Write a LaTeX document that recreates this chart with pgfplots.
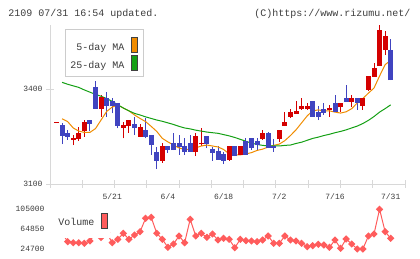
\documentclass[border=0pt]{standalone}
\usepackage{pgfplots}
\pgfplotsset{compat=1.18}
\usepackage{pgfplotstable}
\usepackage{fontspec}
\setmainfont{Liberation Mono}
\definecolor{cup}{RGB}{212,0,0}
\definecolor{cdn}{RGB}{64,68,192}
\definecolor{mafive}{RGB}{240,140,0}
\definecolor{matwf}{RGB}{20,160,20}
\definecolor{vol}{RGB}{255,92,92}
\definecolor{axgray}{RGB}{216,216,216}
\definecolor{txt}{RGB}{60,60,60}

% x open close low high  (red = up)
\pgfplotstableread{
x o c l h
0 3294 3297 3294 3297
3 3239 3245 3223 3255
4 3242 3260 3236 3279
5 3267 3295 3249 3302
8 3338 3374 3312 3381
12 3278 3286 3244 3297
13 3284 3302 3262 3302
15 3249 3280 3249 3288
19 3174 3220 3167 3228
25 3202 3252 3188 3260
26 3226 3230 3220 3276
31 3176 3220 3174 3220
33 3192 3220 3192 3220
37 3242 3260 3239 3270
40 3241 3270 3234 3270
41 3283 3295 3283 3328
42 3312 3327 3309 3336
43 3322 3331 3322 3362
44 3336 3346 3334 3372
45 3336 3346 3334 3355
49 3334 3341 3312 3350
51 3342 3355 3328 3355
53 3360 3371 3344 3381
55 3347 3371 3334 3371
56 3397 3441 3394 3441
57 3439 3465 3439 3481
58 3473 3586 3473 3602
59 3523 3567 3507 3583
}\upc
% blue = down
\pgfplotstableread{
x o c l h
1 3286 3253 3226 3292
2 3262 3249 3239 3271
6 3301 3289 3267 3301
7 3406 3338 3338 3425
9 3371 3347 3312 3390
10 3362 3347 3323 3371
11 3355 3284 3276 3355
14 3290 3276 3255 3312
16 3271 3249 3244 3309
17 3255 3223 3192 3255
18 3200 3174 3147 3216
20 3220 3207 3199 3220
21 3228 3207 3207 3260
22 3228 3216 3192 3255
23 3220 3202 3192 3244
24 3228 3202 3202 3255
27 3252 3226 3213 3252
28 3210 3199 3174 3216
29 3204 3176 3176 3220
30 3195 3174 3163 3202
32 3220 3188 3188 3220
34 3237 3192 3192 3244
35 3244 3213 3207 3244
36 3237 3223 3207 3244
38 3260 3215 3215 3265
39 3220 3215 3202 3242
46 3362 3312 3312 3362
47 3326 3312 3302 3346
48 3337 3325 3318 3355
50 3355 3328 3328 3381
52 3372 3360 3360 3413
54 3371 3355 3334 3371
60 3523 3428 3428 3558
}\dnc
\pgfplotstableread{
x m
1 3306
2 3297
3 3277
4 3267
5 3263
6 3263
7 3275
8 3302
9 3329
10 3343
11 3349
12 3340
13 3331
14 3318
15 3307
16 3297
17 3282
18 3266
19 3244
20 3233
21 3223
22 3214
23 3209
24 3209
25 3214
26 3220
27 3223
28 3220
29 3217
30 3209
31 3195
32 3192
33 3192
34 3195
35 3199
36 3206
37 3210
38 3217
39 3222
40 3226
41 3237
42 3253
43 3271
44 3293
45 3315
46 3331
47 3334
48 3331
49 3331
50 3327
51 3324
52 3328
53 3338
54 3356
55 3370
56 3387
57 3403
58 3441
59 3477
60 3490
}\mafv
\pgfplotstableread{
x m
1 3421
2 3415
3 3410
4 3405
5 3397
6 3390
7 3383
8 3377
9 3370
10 3361
11 3350
12 3340
13 3331
14 3323
15 3318
16 3312
17 3307
18 3302
19 3298
20 3293
21 3288
22 3282
23 3277
24 3274
25 3270
26 3267
27 3264
28 3262
29 3260
30 3256
31 3252
32 3247
33 3241
34 3235
35 3229
36 3225
37 3222
38 3220
39 3220
40 3220
41 3222
42 3223
43 3228
44 3232
45 3238
46 3244
47 3248
48 3253
49 3257
50 3262
51 3266
52 3271
53 3277
54 3283
55 3291
56 3301
57 3313
58 3327
59 3338
60 3350
}\matw
\pgfplotstableread{
x v
0 55000
1 57300
2 39500
3 37400
4 37400
5 36200
6 40900
7 57000
8 48000
9 57700
10 37400
11 44300
12 56500
13 44300
14 53000
15 59700
16 86800
17 88800
18 56500
19 44300
20 28100
21 34800
22 51000
23 37400
24 84800
25 51000
26 56500
27 48400
28 55000
29 42900
30 46300
31 44300
32 27300
33 44300
34 41500
35 40900
36 39500
37 42900
38 51000
39 36200
40 36200
41 51000
42 42900
43 40900
44 36200
45 29400
46 31400
47 34200
48 32800
49 28100
50 42900
51 26100
52 44900
53 34800
54 24700
55 24700
56 51000
57 55000
58 105000
59 59700
60 46300
}\vols

\begin{document}
\begin{tikzpicture}[x=1bp,y=1bp]
\path[use as bounding box] (0,0) rectangle (420,259);
\begin{axis}[
  at={(50bp,75bp)}, anchor=south west,
  width=355bp, height=159bp, scale only axis,
  xmin=-1.167, xmax=62.567, ymin=3100, ymax=3602.1,
  clip=false,
  axis x line*=bottom, axis y line*=left,
  axis line style={draw=axgray, line width=0.9bp, -},
  ytick={3100,3400}, yticklabels={3100,3400},
  xtick={-1.167,4.627,10.421,16.215,22.009,27.803,33.597,39.391,45.185,50.979,56.773,62.567},
  xticklabels={},
  tick style={draw=axgray, line width=0.9bp},
  tick align=center, major tick length=8bp,
  extra x ticks={10,20,30,40,50,60},
  extra x tick labels={5/21,6/4,6/18,7/2,7/16,7/31},
  extra x tick style={major tick length=0pt, tick style={draw=none},
     xticklabel style={yshift=-6bp}},
  ticklabel style={font=\fontsize{8bp}{9bp}\selectfont, text=txt},
  candle/.style n args={2}{draw=none, mark=none, error bars/.cd, y dir=plus, y explicit,
     error mark=none, error bar style={draw=#1, line width=#2}},
]
\addplot[candle={cup}{1bp}]
  table[x=x, y=l, y error expr=\thisrow{h}-\thisrow{l}] \upc;
\addplot[candle={cdn}{1bp}]
  table[x=x, y=l, y error expr=\thisrow{h}-\thisrow{l}] \dnc;
\addplot[mafive, line width=1bp, mark=none] table[x=x, y=m] \mafv;
\addplot[matwf, line width=1bp, mark=none] table[x=x, y=m] \matw;
\addplot[candle={cup}{5bp}]
  table[x=x, y=o, y error expr=\thisrow{c}-\thisrow{o}] \upc;
\addplot[candle={cdn}{5bp}]
  table[x=x, y=c, y error expr=\thisrow{o}-\thisrow{c}] \dnc;
\end{axis}
\begin{axis}[
  at={(50bp,7bp)}, anchor=south west,
  width=355bp, height=47bp, scale only axis,
  xmin=-1.167, xmax=62.567, ymin=18632, ymax=113698,
  clip=false, scaled y ticks=false,
  axis x line=none, axis y line*=left,
  y axis line style={draw=none},
  major tick length=0pt, tick style={draw=none},
  ytick={24700,64850,105000}, yticklabels={24700,64850,105000},
  ticklabel style={font=\fontsize{8bp}{9bp}\selectfont, text=txt},
  yticklabel style={xshift=-2bp},
]
\addplot[vol, line width=1bp, mark=square*, mark size=2.1bp,
  mark options={rotate=45, fill=vol, draw=vol}] table[x=x, y=v] \vols;
\end{axis}
% title
\node[anchor=base west, inner sep=0, text=txt, font=\fontsize{10bp}{12bp}\selectfont] at (8.3,242.5) {2109 07/31 16:54 updated.};
\node[anchor=base east, inner sep=0, text=txt, font=\fontsize{10bp}{12bp}\selectfont] at (410.5,242.5) {(C)https://www.rizumu.net/};
% MA legend
\draw[draw=black!20, fill=white, line width=1bp] (65,182) rectangle (143,229);
\node[anchor=base east, inner sep=0, text=txt, font=\fontsize{10bp}{12bp}\selectfont] at (124.5,209) {5-day MA};
\node[anchor=base east, inner sep=0, text=txt, font=\fontsize{10bp}{12bp}\selectfont] at (124.5,190.5) {25-day MA};
\draw[draw=black!75, fill=mafive, line width=0.8bp] (131.3,207) rectangle (137,221.5);
\draw[draw=black!75, fill=matwf, line width=0.8bp] (131.3,189) rectangle (137,203.5);
% Volume legend
\fill[white] (52,21.3) rectangle (110,56);
\node[anchor=base west, inner sep=0, text=txt, font=\fontsize{10bp}{12bp}\selectfont] at (58.3,33.3) {Volume};
\draw[draw=black!75, fill=vol, line width=0.8bp] (101.3,31) rectangle (107.5,45.5);
\end{tikzpicture}
\end{document}
